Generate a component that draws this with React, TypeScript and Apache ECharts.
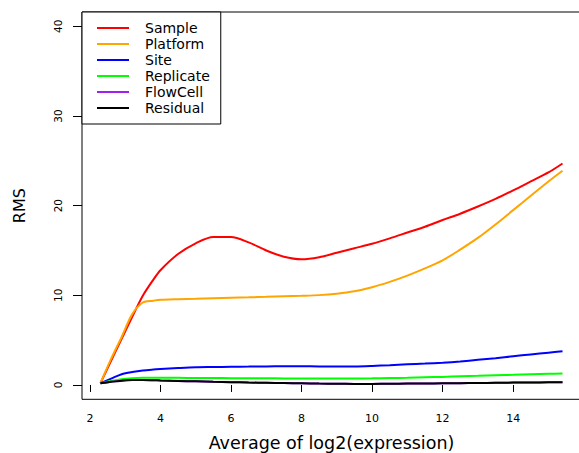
import React, { useEffect, useRef } from "react";
import * as echarts from "echarts";

const xValues = [2.3, 2.6, 2.9, 3.2, 3.5, 3.8, 4, 4.5, 5, 5.5, 6, 6.5, 7, 7.5, 8, 8.5, 9, 9.5, 10, 10.5, 11, 11.5, 12, 12.5, 13, 13.5, 14, 14.5, 15, 15.4];
const sample = [0.2, 2.7, 5.15, 7.6, 9.95, 11.75, 12.8, 14.6, 15.8, 16.5, 16.5, 15.9, 15.0, 14.3, 14.02, 14.25, 14.75, 15.25, 15.75, 16.35, 17.0, 17.65, 18.4, 19.1, 19.9, 20.75, 21.7, 22.7, 23.7, 24.7];
const platform = [0.2, 2.9, 5.35, 7.9, 9.2, 9.4, 9.5, 9.57, 9.62, 9.68, 9.73, 9.77, 9.83, 9.9, 9.95, 10.02, 10.18, 10.45, 10.9, 11.5, 12.2, 13.0, 13.9, 15.1, 16.4, 17.9, 19.5, 21.1, 22.7, 23.9];
const site = [0.2, 0.7, 1.2, 1.45, 1.62, 1.72, 1.77, 1.88, 1.97, 2.0, 2.03, 2.05, 2.07, 2.08, 2.08, 2.07, 2.05, 2.06, 2.12, 2.2, 2.3, 2.38, 2.48, 2.62, 2.8, 2.98, 3.2, 3.4, 3.6, 3.75];
const replicate = [0.2, 0.45, 0.65, 0.75, 0.8, 0.8, 0.8, 0.79, 0.78, 0.77, 0.76, 0.75, 0.74, 0.73, 0.72, 0.71, 0.71, 0.72, 0.74, 0.77, 0.8, 0.85, 0.9, 0.96, 1.02, 1.08, 1.13, 1.19, 1.24, 1.28];
const flowCell = [0.2, 0.35, 0.48, 0.54, 0.56, 0.53, 0.5, 0.45, 0.4, 0.35, 0.31, 0.27, 0.24, 0.21, 0.18, 0.15, 0.13, 0.12, 0.12, 0.13, 0.15, 0.16, 0.18, 0.2, 0.22, 0.24, 0.26, 0.28, 0.29, 0.3];
const residual = [0.2, 0.35, 0.48, 0.54, 0.56, 0.53, 0.5, 0.45, 0.4, 0.35, 0.31, 0.27, 0.24, 0.21, 0.18, 0.15, 0.13, 0.12, 0.12, 0.13, 0.15, 0.16, 0.18, 0.2, 0.22, 0.24, 0.26, 0.28, 0.29, 0.3];

const seriesNames = ["Sample", "Platform", "Site", "Replicate", "FlowCell", "Residual"];
const seriesColors = ["#FF0000", "#FFA500", "#0000FF", "#00FF00", "#A020F0", "#000000"];
const xTicks = [2, 4, 6, 8, 10, 12, 14];
const yTicks = [0, 10, 20, 30, 40];

export default function App() {
  const ref = useRef<HTMLDivElement>(null);
  useEffect(() => {
    const chart = echarts.init(ref.current!, undefined, { renderer: "svg" });
    const values = [sample, platform, site, replicate, flowCell, residual];
    chart.setOption({
      animation: false,
      backgroundColor: "#fff",
      textStyle: { fontFamily: "DejaVu Sans" },
      grid: {
        left: 82, top: 12, right: -2, bottom: 53.7,
        show: true, borderColor: "#000", borderWidth: 1,
        containLabel: false, outerBoundsMode: "none",
      },
      xAxis: {
        type: "value", min: 1.776, max: 15.924,
        axisLine: { show: false }, splitLine: { show: false },
        axisTick: { customValues: xTicks, length: 7, lineStyle: { color: "#000" } },
        axisLabel: { customValues: xTicks, margin: 14, fontSize: 11, color: "#000" },
        name: "Average of log2(expression)", nameLocation: "middle", nameGap: 35,
        nameTextStyle: { fontSize: 17.5, color: "#000" },
      },
      yAxis: {
        type: "value", min: -1.6, max: 41.6,
        axisLine: { show: false }, splitLine: { show: false },
        axisTick: { customValues: yTicks, length: 9, lineStyle: { color: "#000" } },
        axisLabel: { customValues: yTicks, rotate: 90, margin: 19, fontSize: 10.5, color: "#000" },
        name: "RMS", nameLocation: "middle", nameGap: 55,
        nameTextStyle: { fontSize: 16, color: "#000" },
      },
      legend: {
        orient: "vertical", left: 82, top: 12, data: seriesNames,
        backgroundColor: "#fff", borderColor: "#000", borderWidth: 1, borderRadius: 0,
        padding: [8, 11, 8, 15], itemGap: 0, itemWidth: 32, itemHeight: 2, icon: "rect",
        textStyle: { fontSize: 14, color: "#000", lineHeight: 16, padding: [0, 0, 0, 11] },
      },
      series: seriesNames.map((name, i) => ({
        name, type: "line", symbol: "none", showSymbol: false,
        smooth: 0.3,
        data: xValues.map((x, j) => [x, values[i][j]]),
        lineStyle: { width: 2, color: seriesColors[i] },
        itemStyle: { color: seriesColors[i] },
      })),
    });
    return () => chart.dispose();
  }, []);
  return <div ref={ref} style={{ position: "absolute", left: 0, top: 0, width: 579, height: 453 }} />;
}
